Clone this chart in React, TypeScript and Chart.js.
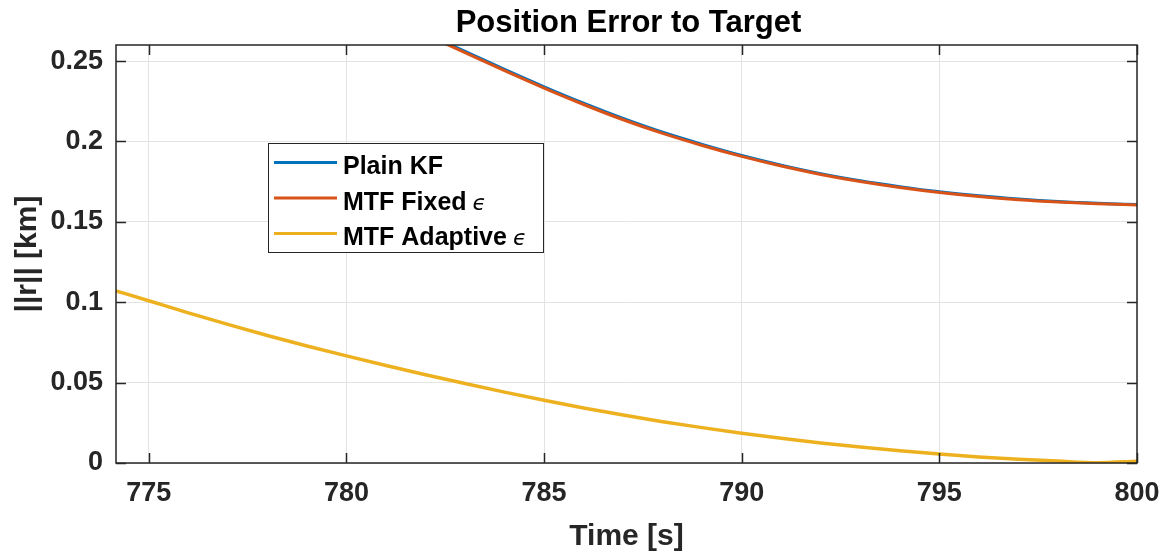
import React, { useEffect, useRef } from "react";
import { Chart, registerables } from "chart.js";

Chart.register(...registerables);

const CHART_TITLE = "Position Error to Target";
const X_TITLE = "Time [s]";
const Y_TITLE = "||r|| [km]";

const TIME_TOP = [782.5, 783, 784, 785, 786, 787, 788, 789, 790, 791, 792, 793, 794, 795, 796, 797, 798, 799, 800];
const PLAIN_KF = [0.2616, 0.2561, 0.2448, 0.234, 0.2238, 0.2143, 0.2057, 0.1982, 0.1913, 0.1853, 0.18, 0.1756, 0.1719, 0.1687, 0.1662, 0.1642, 0.1626, 0.1615, 0.1608];
const MTF_FIXED = [0.2608, 0.2553, 0.244, 0.2332, 0.223, 0.2135, 0.205, 0.1975, 0.1907, 0.1847, 0.1795, 0.1751, 0.1714, 0.1683, 0.1658, 0.1638, 0.1623, 0.1612, 0.1605];

const TIME_ADAPT = [774.17, 775, 776, 777, 778, 779, 780, 781, 782, 783, 784, 785, 786, 787, 788, 789, 790, 791, 792, 793, 794, 795, 796, 797, 798, 799, 800];
const MTF_ADAPTIVE = [0.1071, 0.1009, 0.0934, 0.0862, 0.0793, 0.0728, 0.0666, 0.0606, 0.0549, 0.0494, 0.0441, 0.039, 0.0342, 0.0298, 0.0257, 0.022, 0.0185, 0.0154, 0.0125, 0.0099, 0.0076, 0.0056, 0.0038, 0.0024, 0.0012, 0.0002, 0.0011];

const X_TICKS = [775, 780, 785, 790, 795, 800];
const Y_TICKS = [0, 0.05, 0.1, 0.15, 0.2, 0.25];
const X_MIN = 774.17;
const X_MAX = 800;
const Y_MIN = 0;
const Y_MAX = 0.26;

const LEGEND_LABELS = ["Plain KF", "MTF Fixed", "MTF Adaptive"];
const LEGEND_SUFFIX = ["", "\u03F5", "\u03F5"];
const COLORS = ["#0072BD", "#D95319", "#EDB120"];

const FONT = '"Liberation Sans", Arial, Helvetica, sans-serif';
const AXIS_COLOR = "#262626";

const toPoints = (xs: number[], ys: number[]) => xs.map((x, i) => ({ x, y: ys[i] }));

const decorPlugin = {
  id: "matlabDecor",
  afterDraw(chart: any) {
    const { ctx, chartArea } = chart;
    const { left, right, top, bottom } = chartArea;
    const xs = chart.scales.x;
    const ys = chart.scales.y;
    ctx.save();

    // axes box
    ctx.strokeStyle = AXIS_COLOR;
    ctx.lineWidth = 1.5;
    ctx.strokeRect(left, top, right - left, bottom - top);

    // inward ticks
    const tl = 10;
    ctx.beginPath();
    X_TICKS.forEach((v) => {
      const px = Math.round(xs.getPixelForValue(v)) + 0.5;
      ctx.moveTo(px, bottom);
      ctx.lineTo(px, bottom - tl);
      ctx.moveTo(px, top);
      ctx.lineTo(px, top + tl);
    });
    Y_TICKS.forEach((v) => {
      const py = Math.round(ys.getPixelForValue(v)) + 0.5;
      ctx.moveTo(left, py);
      ctx.lineTo(left + tl, py);
      ctx.moveTo(right, py);
      ctx.lineTo(right - tl, py);
    });
    ctx.stroke();

    // title
    ctx.fillStyle = "#000000";
    ctx.font = `bold 31px ${FONT}`;
    ctx.textAlign = "center";
    ctx.textBaseline = "alphabetic";
    ctx.fillText(CHART_TITLE, (left + right) / 2 + 2, 32);

    // x title
    ctx.fillStyle = AXIS_COLOR;
    ctx.font = `bold 30px ${FONT}`;
    ctx.fillText(X_TITLE, (left + right) / 2, 545);

    // y title
    ctx.save();
    ctx.translate(36, (top + bottom) / 2);
    ctx.rotate(-Math.PI / 2);
    ctx.fillText(Y_TITLE, 0, 0);
    ctx.restore();

    // legend
    const bx = 268, by = 143, bw = 275, bh = 109;
    ctx.fillStyle = "#ffffff";
    ctx.fillRect(bx, by, bw, bh);
    ctx.strokeStyle = AXIS_COLOR;
    ctx.lineWidth = 1;
    ctx.strokeRect(bx + 0.5, by + 0.5, bw, bh);
    const rows = [162.5, 198, 233.5];
    LEGEND_LABELS.forEach((label, i) => {
      const y = rows[i];
      ctx.strokeStyle = COLORS[i];
      ctx.lineWidth = 3;
      ctx.beginPath();
      ctx.moveTo(274, y);
      ctx.lineTo(337, y);
      ctx.stroke();
      ctx.fillStyle = "#000000";
      ctx.font = `bold 25px ${FONT}`;
      ctx.textAlign = "left";
      ctx.textBaseline = "alphabetic";
      ctx.fillText(label, 343, y + 11.5);
      if (LEGEND_SUFFIX[i]) {
        const w = ctx.measureText(label).width;
        ctx.font = `italic 22px "DejaVu Sans", sans-serif`;
        ctx.fillText(LEGEND_SUFFIX[i], 343 + w + 6, y + 11.5);
      }
    });

    ctx.restore();
  },
};

export default function App() {
  const canvasRef = useRef<HTMLCanvasElement | null>(null);

  useEffect(() => {
    const canvas = canvasRef.current;
    if (!canvas) return;
    const chart = new Chart(canvas, {
      type: "line",
      data: {
        datasets: [
          {
            label: LEGEND_LABELS[0],
            data: toPoints(TIME_TOP, PLAIN_KF),
            borderColor: COLORS[0],
            borderWidth: 3,
            pointRadius: 0,
            cubicInterpolationMode: "monotone",
            order: 1,
          },
          {
            label: LEGEND_LABELS[1],
            data: toPoints(TIME_TOP, MTF_FIXED),
            borderColor: COLORS[1],
            borderWidth: 3,
            pointRadius: 0,
            cubicInterpolationMode: "monotone",
            order: 0,
          },
          {
            label: LEGEND_LABELS[2],
            data: toPoints(TIME_ADAPT, MTF_ADAPTIVE),
            borderColor: COLORS[2],
            borderWidth: 3.5,
            pointRadius: 0,
            cubicInterpolationMode: "monotone",
            order: 2,
          },
        ],
      },
      options: {
        responsive: false,
        animation: false,
        layout: { padding: { top: 45, right: 32, left: 0, bottom: 0 } },
        plugins: {
          legend: { display: false },
          title: { display: false },
          tooltip: { enabled: false },
        },
        scales: {
          x: {
            type: "linear",
            min: X_MIN,
            max: X_MAX,
            afterBuildTicks: (scale: any) => {
              scale.ticks = X_TICKS.map((v) => ({ value: v }));
            },
            afterFit: (scale: any) => {
              scale.height = 96;
              scale.paddingLeft = 0;
              scale.paddingRight = 0;
            },
            grid: { color: "#e3e3e3", lineWidth: 1, drawTicks: false },
            border: { display: false },
            ticks: {
              color: AXIS_COLOR,
              font: { family: FONT, size: 27, weight: "bold" },
              padding: 14,
              maxRotation: 0,
              autoSkip: false,
              callback: (v: any) => String(v),
            },
          },
          y: {
            type: "linear",
            min: Y_MIN,
            max: Y_MAX,
            afterBuildTicks: (scale: any) => {
              scale.ticks = Y_TICKS.map((v) => ({ value: v }));
            },
            afterFit: (scale: any) => {
              scale.width = 116;
              scale.paddingTop = 0;
              scale.paddingBottom = 0;
            },
            grid: { color: "#e3e3e3", lineWidth: 1, drawTicks: false },
            border: { display: false },
            ticks: {
              color: AXIS_COLOR,
              font: { family: FONT, size: 27, weight: "bold" },
              padding: 13,
              autoSkip: false,
              callback: (v: any) => String(Number(v.toFixed(2))),
            },
          },
        },
      },
      plugins: [decorPlugin],
    } as any);
    return () => chart.destroy();
  }, []);

  return (
    <div style={{ position: "fixed", left: 0, top: 0, width: 1169, height: 559, background: "#ffffff" }}>
      <canvas ref={canvasRef} width={1169} height={559} />
    </div>
  );
}
